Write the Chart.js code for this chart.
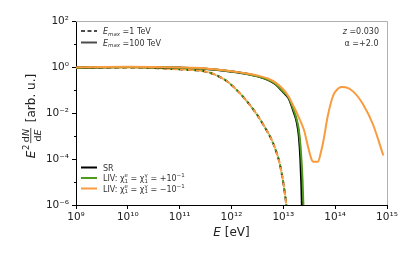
<!DOCTYPE html>
<html>
<head>
<meta charset="utf-8">
<script src="https://cdn.jsdelivr.net/npm/chart.js@4/dist/chart.umd.min.js"></script>
<style>
  html, body { margin: 0; padding: 0; background: #fff; }
  #wrap { width: 411px; height: 254px; }
</style>
</head>
<body>
<div id="wrap"><canvas id="c" width="411" height="254"></canvas></div>
<script>
// sample points, as log10(E / eV) and log10(E^2 dN/dE)
// E_max = 1 TeV: SR and both LIV cases lie on top of each other
var logE_dash = [9.0, 9.5, 10.0, 10.5, 11.0, 11.3, 11.5, 11.7, 11.9, 12.1, 12.3, 12.5, 12.65, 12.8, 12.94, 13.03, 13.08];
var logF_dash = [-0.03, -0.02, -0.02, -0.04, -0.1, -0.14, -0.2, -0.35, -0.6, -1.0, -1.5, -2.1, -2.65, -3.3, -4.3, -5.5, -6.4];

// E_max = 100 TeV
var logE_sr = [9.0, 9.5, 10.0, 10.5, 11.0, 11.5, 12.0, 12.3, 12.5, 12.7, 12.85, 13.0, 13.1, 13.2, 13.26, 13.3, 13.33, 13.35, 13.37];
var logF_sr = [-0.03, -0.01, 0.0, -0.01, -0.03, -0.08, -0.2, -0.3, -0.4, -0.55, -0.75, -1.1, -1.35, -1.95, -2.4, -3.0, -4.0, -5.2, -7.0];

var logE_livPlus = [9.0, 9.5, 10.0, 10.5, 11.0, 11.5, 12.0, 12.3, 12.5, 12.7, 12.85, 13.0, 13.1, 13.2, 13.26, 13.3, 13.34, 13.37, 13.39, 13.41];
var logF_livPlus = [-0.03, -0.01, 0.0, -0.01, -0.03, -0.08, -0.2, -0.3, -0.4, -0.55, -0.74, -1.08, -1.32, -1.88, -2.3, -2.75, -3.7, -4.9, -6.2, -7.5];

var logE_livMinus = [9.0, 9.5, 10.0, 10.5, 11.0, 11.5, 12.0, 12.3, 12.5, 12.7, 12.85, 13.0, 13.1, 13.2, 13.3, 13.4, 13.48, 13.55, 13.58, 13.67, 13.72, 13.77, 13.86, 13.96, 14.05, 14.12, 14.2, 14.35, 14.54, 14.73, 14.93];
var logF_livMinus = [-0.02, 0.0, 0.01, 0.0, -0.02, -0.06, -0.18, -0.28, -0.37, -0.5, -0.68, -0.98, -1.28, -1.72, -2.2, -2.75, -3.5, -4.05, -4.12, -4.12, -3.75, -3.25, -2.1, -1.25, -0.95, -0.87, -0.88, -1.07, -1.63, -2.5, -3.85];

var xTicks = [1e9, 1e10, 1e11, 1e12, 1e13, 1e14, 1e15];
var yTicks = [1e-6, 1e-4, 1e-2, 1e0, 1e2];
var yMinor = [1e-5, 1e-3, 1e-1, 1e1];

var BLACK = '#000000', GREEN = '#4e9a1c', ORANGE = '#f99b3e', GREY = '#4d4d4d';
var FF = '"DejaVu Sans", sans-serif';

function pts(le, lf) { return le.map(function (e, i) { return { x: Math.pow(10, e), y: Math.pow(10, lf[i]) }; }); }
function supStr(n) {
  var m = { '0': '⁰', '1': '¹', '2': '²', '3': '³', '4': '⁴', '5': '⁵', '6': '⁶', '7': '⁷', '8': '⁸', '9': '⁹', '-': '⁻' };
  return String(n).split('').map(function (c) { return m[c]; }).join('');
}
function pow10Label(v) { return '10' + supStr(Math.round(Math.log10(v))); }

function font(size, it) { return (it ? 'italic ' : '') + size + 'px ' + FF; }
// parts: [text, size, dy, italic, noAdvance]
function richWidth(ctx, parts) {
  var w = 0, hold = 0;
  parts.forEach(function (p) {
    ctx.font = font(p[1], p[3]); var pw = ctx.measureText(p[0]).width;
    if (p[4]) hold = Math.max(hold, pw); else { w += Math.max(pw, hold); hold = 0; }
  });
  return w;
}
function rich(ctx, x, y, parts) {
  var cx = x, hold = 0;
  parts.forEach(function (p) {
    ctx.font = font(p[1], p[3]); ctx.fillText(p[0], cx, y + p[2]);
    var pw = ctx.measureText(p[0]).width;
    if (p[4]) hold = Math.max(hold, pw); else { cx += Math.max(pw, hold); hold = 0; }
  });
  return cx;
}

var deco = {
  id: 'deco',
  afterDraw: function (ch) {
    var ctx = ch.ctx, a = ch.chartArea, ys = ch.scales.y;
    ctx.save();
    // top + right spines (light)
    ctx.strokeStyle = '#b0b0b0'; ctx.lineWidth = 1;
    ctx.beginPath();
    ctx.moveTo(a.left, a.top + 0.5); ctx.lineTo(a.right + 0.5, a.top + 0.5);
    ctx.lineTo(a.right + 0.5, a.bottom);
    ctx.stroke();
    // minor y ticks
    ctx.strokeStyle = '#000';
    yMinor.forEach(function (v) {
      var py = Math.round(ys.getPixelForValue(v)) + 0.5;
      ctx.beginPath(); ctx.moveTo(a.left - 2, py); ctx.lineTo(a.left, py); ctx.stroke();
    });

    ctx.fillStyle = '#222'; ctx.textBaseline = 'alphabetic'; ctx.textAlign = 'left';
    // x title
    var xt = [['E', 12, 0, true], [' [eV]', 12, 0, false]];
    rich(ctx, (a.left + a.right) / 2 - richWidth(ctx, xt) / 2, 236, xt);

    // y title: E^2 dN/dE [arb. u.]
    ctx.save();
    ctx.translate(35, (a.top + a.bottom) / 2 + 3);
    ctx.rotate(-Math.PI / 2);
    ctx.font = font(12, true); var wE = ctx.measureText('E').width;
    ctx.font = font(8.5, false); var w2 = ctx.measureText('2').width;
    var num = [['d', 9.5, 0, false], ['N', 9.5, 0, true]], den = [['d', 9.5, 0, false], ['E', 9.5, 0, true]];
    var fw = Math.max(richWidth(ctx, num), richWidth(ctx, den)) + 2;
    ctx.font = font(12, false); var wr = ctx.measureText(' [arb. u.]').width;
    var W = wE + w2 + 2 + fw + 2 + wr, x0 = -W / 2;
    ctx.font = font(12, true); ctx.fillText('E', x0, 0);
    ctx.font = font(8.5, false); ctx.fillText('2', x0 + wE + 0.5, -6);
    var fx = x0 + wE + w2 + 2;
    rich(ctx, fx + (fw - richWidth(ctx, num)) / 2, -6.5, num);
    rich(ctx, fx + (fw - richWidth(ctx, den)) / 2, 5.5, den);
    ctx.fillRect(fx, -4.6, fw, 0.8);
    ctx.font = font(12, false); ctx.fillText(' [arb. u.]', fx + fw + 2, 0);
    ctx.restore();

    // legend lines helper
    function sample(y, color, dash) {
      ctx.save(); ctx.strokeStyle = color; ctx.lineWidth = 2; ctx.setLineDash(dash || []);
      ctx.beginPath(); ctx.moveTo(81, y); ctx.lineTo(97, y); ctx.stroke(); ctx.restore();
    }
    ctx.fillStyle = '#333';
    // E_max legend
    sample(31, GREY, [4, 2.5]);
    rich(ctx, 103, 34, [['E', 8, 0, true], ['max', 5.5, 1.8, true], [' =1 TeV', 8, 0, false]]);
    sample(42.5, GREY);
    rich(ctx, 103, 45.5, [['E', 8, 0, true], ['max', 5.5, 1.8, true], [' =100 TeV', 8, 0, false]]);

    // model legend
    sample(167.5, BLACK);
    rich(ctx, 103, 170.5, [['SR', 8, 0, false]]);
    function liv(sign) {
      return [['LIV: ', 8, 0, false], ['χ', 8, 0, false], ['1', 5.5, 1.8, false, true], ['e', 5.5, -3.6, false],
        [' = ', 8, 0, false], ['χ', 8, 0, false], ['1', 5.5, 1.8, false, true], ['γ', 5.5, -3.6, false],
        [' = ' + sign + '10', 8, 0, false], ['−1', 5.5, -3.6, false]];
    }
    sample(178, GREEN);
    rich(ctx, 103, 181, liv('+'));
    sample(188.5, ORANGE);
    rich(ctx, 103, 191.5, liv('−'));

    // top-right annotation
    var z = [['z', 8, 0, true], [' =0.030', 8, 0, false]];
    rich(ctx, 379 - richWidth(ctx, z), 34, z);
    var al = [['α', 8, 0, false], [' =+2.0', 8, 0, false]];
    rich(ctx, 378.5 - richWidth(ctx, al), 45.5, al);
    ctx.restore();
  }
};

var dashBase = { pointRadius: 0, borderWidth: 2, fill: false, cubicInterpolationMode: 'monotone' };
function ds(le, lf, color, extra, order) {
  return Object.assign({}, dashBase, { data: pts(le, lf), borderColor: color, order: order }, extra || {});
}

new Chart(document.getElementById('c').getContext('2d'), {
  type: 'line',
  data: {
    datasets: [
      ds(logE_dash, logF_dash, BLACK, { borderDash: [4, 4], borderDashOffset: 1 }, 6),
      ds(logE_dash, logF_dash, GREEN, { borderDash: [2, 6], borderDashOffset: -5.5 }, 5),
      ds(logE_dash, logF_dash, ORANGE, { borderDash: [5, 3], borderDashOffset: 0 }, 4),
      ds(logE_sr, logF_sr, BLACK, { borderWidth: 2.2 }, 3),
      ds(logE_livPlus, logF_livPlus, GREEN, null, 2),
      ds(logE_livMinus, logF_livMinus, ORANGE, null, 1)
    ]
  },
  options: {
    responsive: false,
    animation: false,
    devicePixelRatio: 1,
    layout: { padding: { left: 0, right: 24, top: 21, bottom: 0 } },
    plugins: { legend: { display: false }, tooltip: { enabled: false } },
    scales: {
      x: {
        type: 'logarithmic', min: 1e9, max: 1e15,
        afterBuildTicks: function (s) { s.ticks = xTicks.map(function (v) { return { value: v }; }); },
        afterFit: function (s) { s.height = 49; },
        grid: { display: true, drawOnChartArea: false, drawTicks: true, tickLength: 4, tickColor: '#000' },
        border: { display: true, color: '#000', width: 1 },
        ticks: { autoSkip: false, maxRotation: 0, padding: 2, color: '#222', font: { family: FF, size: 10.5 },
          callback: function (v) { return pow10Label(v); } }
      },
      y: {
        type: 'logarithmic', min: 1e-6, max: 1e2,
        afterBuildTicks: function (s) { s.ticks = yTicks.map(function (v) { return { value: v }; }); },
        afterFit: function (s) { s.width = 76; },
        grid: { display: true, drawOnChartArea: false, drawTicks: true, tickLength: 4, tickColor: '#000' },
        border: { display: true, color: '#000', width: 1 },
        ticks: { autoSkip: false, padding: 3, color: '#222', font: { family: FF, size: 10.5 },
          callback: function (v) { return pow10Label(v); } }
      }
    }
  },
  plugins: [deco]
});
</script>
</body>
</html>
